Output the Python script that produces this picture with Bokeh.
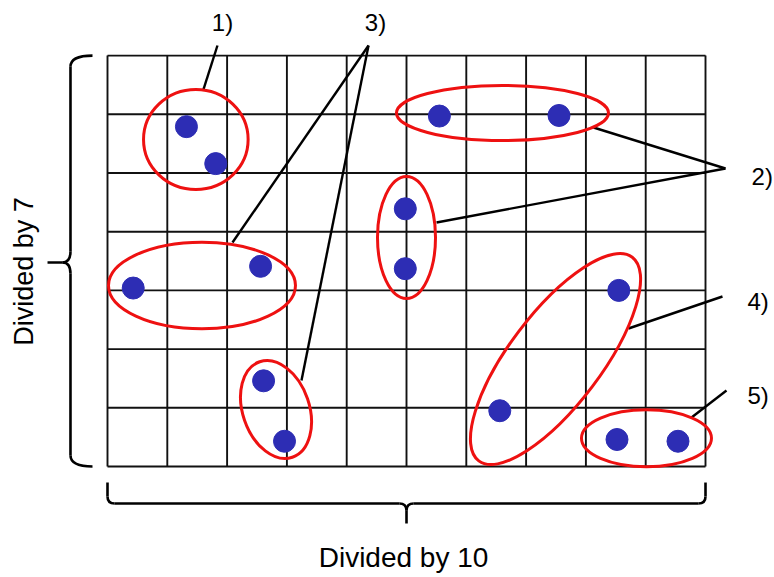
import math
from bokeh.plotting import figure
from bokeh.models import Range1d
from bokeh.core.properties import value
from bokeh.embed import file_html
from bokeh.resources import INLINE

# ---- data (grid units: 10 columns x 7 rows) ----
grid_x = list(range(0, 11))
grid_y = list(range(0, 8))

pt_x = [1.32, 1.81, 5.55, 7.55, 4.98, 4.98, 0.43, 2.56, 2.61, 2.96, 8.55, 6.56, 8.52, 9.54]
pt_y = [5.79, 5.16, 5.97, 5.98, 4.39, 3.37, 3.04, 3.41, 1.46, 0.43, 3.00, 0.95, 0.46, 0.43]

# cluster outlines (ellipses)
ell_x = [1.477, 6.605, 5.000, 1.580, 2.818, 7.492, 9.013]
ell_y = [5.571, 6.022, 3.901, 3.083, 0.971, 1.831, 0.482]
ell_w = [1.749, 3.545, 0.970, 3.127, 1.114, 1.538, 2.174]
ell_h = [1.704, 0.937, 2.078, 1.475, 1.721, 4.344, 0.971]
ell_angle = [0.0, 0.0, 0.0, 0.0, 0.33, -0.646, 0.0]

# leader lines to the labels
lead_x0 = [1.605, 2.090, 3.244, 8.127, 5.502, 8.712, 9.766]
lead_y0 = [6.423, 3.816, 1.465, 5.775, 4.157, 2.351, 0.835]
lead_x1 = [1.839, 4.365, 4.365, 10.334, 10.334, 10.284, 10.351]
lead_y1 = [7.172, 7.172, 7.172, 5.077, 5.077, 2.896, 1.295]

# labels
top_labels = ["1)", "3)"]
top_label_x = [1.923, 4.482]
top_label_y = [7.564, 7.564]
side_labels = ["2)", "4)", "5)"]
side_label_x = [10.770, 10.702, 10.702]
side_label_y = [4.940, 2.811, 1.210]

x_title = "Divided by 10"
y_title = "Divided by 7"

# braces
lbrace_x_end, lbrace_x_vert, lbrace_x_tip = -0.251, -0.619, -1.003
lbrace_y_top, lbrace_y_mid, lbrace_y_bot = 7.0, 3.475, 0.0
bbrace_y_end, bbrace_y_horiz, bbrace_y_tip = -0.273, -0.630, -0.971
bbrace_x_left, bbrace_x_mid, bbrace_x_right = 0.0, 5.0, 10.0

FONT = value("Liberation Sans")

p = figure(width=774, height=577,
           x_range=Range1d(-1.7893, 11.1538), y_range=Range1d(-1.8910, 7.9387),
           x_axis_type=None, y_axis_type=None,
           output_backend="svg", toolbar_location=None,
           min_border=0, min_border_left=0, min_border_right=0,
           min_border_top=0, min_border_bottom=0)
p.xgrid.visible = False
p.ygrid.visible = False
p.outline_line_color = None
p.background_fill_color = "white"
p.border_fill_color = "white"

GRID_C = "#111111"
# grid
p.segment(x0=grid_x, y0=[grid_y[0]] * len(grid_x), x1=grid_x, y1=[grid_y[-1]] * len(grid_x),
          line_color=GRID_C, line_width=1.9)
p.segment(x0=[grid_x[0]] * len(grid_y), y0=grid_y, x1=[grid_x[-1]] * len(grid_y), y1=grid_y,
          line_color=GRID_C, line_width=1.9)

# leader lines
p.segment(x0=lead_x0, y0=lead_y0, x1=lead_x1, y1=lead_y1, line_color="black", line_width=2.4)

# ellipses
p.ellipse(x=ell_x, y=ell_y, width=ell_w, height=ell_h, angle=ell_angle,
          fill_color=None, line_color="#ee1111", line_width=3)

# points
p.scatter(x=pt_x, y=pt_y, size=22, marker="circle", fill_color="#2d2db4", line_color="#2d2db4")

BR_C = "black"
BR_W = 2.6
# left brace
rx, ry = 0.13, 0.19
p.quadratic(x0=[lbrace_x_end, lbrace_x_vert, lbrace_x_tip + 0.25, lbrace_x_vert],
            y0=[lbrace_y_top, lbrace_y_mid + ry, lbrace_y_mid, lbrace_y_bot + ry],
            x1=[lbrace_x_vert, lbrace_x_tip + 0.25, lbrace_x_vert, lbrace_x_end],
            y1=[lbrace_y_top - ry, lbrace_y_mid, lbrace_y_mid - ry, lbrace_y_bot],
            cx=[lbrace_x_vert, lbrace_x_vert, lbrace_x_vert, lbrace_x_vert],
            cy=[lbrace_y_top, lbrace_y_mid, lbrace_y_mid, lbrace_y_bot],
            line_color=BR_C, line_width=BR_W)
p.segment(x0=[lbrace_x_vert, lbrace_x_vert, lbrace_x_tip],
          y0=[lbrace_y_top - ry, lbrace_y_mid - ry, lbrace_y_mid],
          x1=[lbrace_x_vert, lbrace_x_vert, lbrace_x_tip + 0.25],
          y1=[lbrace_y_mid + ry, lbrace_y_bot + ry, lbrace_y_mid],
          line_color=BR_C, line_width=BR_W)

# bottom brace
bx, by = 0.12, 0.12
p.quadratic(x0=[bbrace_x_left, bbrace_x_mid - bx, bbrace_x_mid, bbrace_x_right - bx],
            y0=[bbrace_y_horiz + by, bbrace_y_horiz, bbrace_y_horiz - by, bbrace_y_horiz],
            x1=[bbrace_x_left + bx, bbrace_x_mid, bbrace_x_mid + bx, bbrace_x_right],
            y1=[bbrace_y_horiz, bbrace_y_horiz - by, bbrace_y_horiz, bbrace_y_horiz + by],
            cx=[bbrace_x_left, bbrace_x_mid, bbrace_x_mid, bbrace_x_right],
            cy=[bbrace_y_horiz, bbrace_y_horiz, bbrace_y_horiz, bbrace_y_horiz],
            line_color=BR_C, line_width=BR_W)
p.segment(x0=[bbrace_x_left, bbrace_x_left + bx, bbrace_x_mid + bx, bbrace_x_right, bbrace_x_mid],
          y0=[bbrace_y_end, bbrace_y_horiz, bbrace_y_horiz, bbrace_y_end, bbrace_y_horiz - by],
          x1=[bbrace_x_left, bbrace_x_mid - bx, bbrace_x_right - bx, bbrace_x_right, bbrace_x_mid],
          y1=[bbrace_y_horiz + by, bbrace_y_horiz, bbrace_y_horiz, bbrace_y_horiz + by, bbrace_y_tip],
          line_color=BR_C, line_width=BR_W)

# labels
p.text(x=top_label_x, y=top_label_y, text=top_labels, text_align="center", text_baseline="middle",
       text_font=FONT, text_font_size="24px", text_color="black")
p.text(x=side_label_x, y=side_label_y, text=side_labels, text_align="left", text_baseline="middle",
       text_font=FONT, text_font_size="24px", text_color="black")
p.text(x=[4.95], y=[-1.55], text=[x_title], text_align="center", text_baseline="middle",
       text_font=FONT, text_font_size="28px", text_color="black")
p.text(x=[-1.388], y=[3.322], text=[y_title], angle=math.pi / 2, text_align="center",
       text_baseline="middle", text_font=FONT, text_font_size="27px", text_color="black")

open("out.html", "w").write(file_html(p, INLINE))
